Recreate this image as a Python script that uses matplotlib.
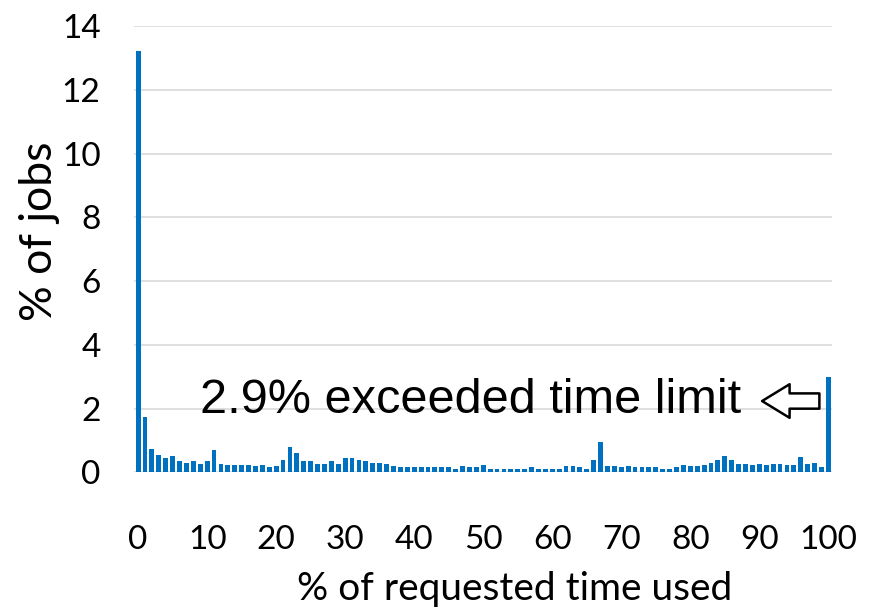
# Job runtime vs requested time histogram

import matplotlib.pyplot as plt

pct_used = list(range(0, 101))
pct_jobs = [
    13.2, 1.73, 0.73, 0.56, 0.44, 0.52, 0.36, 0.31, 0.36, 0.27,
    0.36, 0.70, 0.27, 0.23, 0.23, 0.23, 0.23, 0.19, 0.23, 0.16,
    0.19, 0.40, 0.81, 0.60, 0.36, 0.36, 0.27, 0.27, 0.36, 0.27,
    0.44, 0.44, 0.40, 0.36, 0.31, 0.31, 0.27, 0.19, 0.16, 0.16,
    0.16, 0.16, 0.16, 0.16, 0.16, 0.16, 0.10, 0.21, 0.16, 0.16,
    0.23, 0.10, 0.10, 0.10, 0.10, 0.10, 0.10, 0.16, 0.10, 0.10,
    0.10, 0.10, 0.19, 0.19, 0.16, 0.10, 0.40, 0.94, 0.19, 0.19,
    0.16, 0.19, 0.16, 0.16, 0.16, 0.16, 0.10, 0.10, 0.16, 0.23,
    0.19, 0.19, 0.23, 0.31, 0.40, 0.52, 0.40, 0.27, 0.27, 0.23,
    0.27, 0.23, 0.27, 0.27, 0.23, 0.23, 0.47, 0.27, 0.31, 0.16,
    3.0,
]
x_ticks = list(range(0, 101, 10))
y_ticks = list(range(0, 15, 2))
note = "2.9% exceeded time limit"

label_font = ["Lato", "DejaVu Sans"]
note_font = ["Liberation Sans", "DejaVu Sans"]

fig = plt.figure(figsize=(8.71, 6.14), dpi=100)
ax = fig.add_axes([0.1538, 0.2305, 0.8012, 0.7272])

ax.bar(pct_used, pct_jobs, width=0.7, color="#0070C0", zorder=3)

ax.set_xlim(-0.6, 100.5)
ax.set_ylim(0, 14)
ax.set_xticks(x_ticks)
ax.set_yticks(y_ticks)
ax.grid(axis="y", color="#D9D9D9", linewidth=1.2, zorder=0)
for s in ax.spines.values():
    s.set_visible(False)

ax.tick_params(axis="y", length=0, pad=24)
ax.tick_params(axis="x", length=0, pad=38)
for lab in ax.get_xticklabels() + ax.get_yticklabels():
    lab.set_family(label_font)
    lab.set_fontsize(24)

ax.text(9.0, 1.87, note, family=note_font, fontsize=35, va="baseline", ha="left", zorder=4)
ax.annotate(
    "",
    xy=(90.4, 2.24),
    xytext=(98.7, 2.24),
    arrowprops=dict(
        arrowstyle="simple,head_length=0.9,head_width=1.1,tail_width=0.5",
        fc="white",
        ec="black",
        lw=1.8,
        mutation_scale=22,
        shrinkA=0,
        shrinkB=0,
    ),
    zorder=4,
)

fig.text(0.591, 0.0228, "% of requested time used", family=label_font, fontsize=28,
         ha="center", va="baseline")
fig.text(0.0448, 0.624, "% of jobs", family=label_font,
         fontsize=32, rotation=90, ha="center", va="center")

fig.savefig("out.png", dpi=100)
